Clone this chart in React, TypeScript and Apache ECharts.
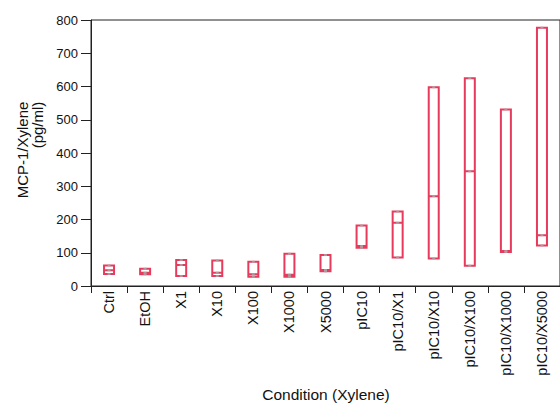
import React, { useEffect, useRef } from "react";
import * as echarts from "echarts";

const categories = ["Ctrl", "EtOH", "X1", "X10", "X100", "X1000", "X5000", "pIC10", "pIC10/X1", "pIC10/X10", "pIC10/X100", "pIC10/X1000", "pIC10/X5000"];
const minValues = [36, 35, 30, 30, 28, 28, 44, 115, 86, 83, 61, 102, 122];
const medianValues = [47, 40, 63, 40, 35, 34, 48, 120, 190, 270, 345, 105, 153];
const maxValues = [62, 52, 78, 77, 73, 97, 93, 182, 224, 598, 625, 531, 777];
const yTicks = { min: 0, max: 800, interval: 100 };

const RED = "#e63b5c";
const FONT = "Liberation Sans, Arial, Helvetica, sans-serif";

export default function App() {
  const ref = useRef<HTMLDivElement>(null);
  useEffect(() => {
    if (!ref.current) return;
    const chart = echarts.init(ref.current, null, { renderer: "svg" });
    const boxData = categories.map((_, i) => [minValues[i], minValues[i], medianValues[i], maxValues[i], maxValues[i]]);
    const pointData: number[][] = [];
    categories.forEach((_, i) => {
      pointData.push([i, minValues[i]]);
      pointData.push([i, medianValues[i]]);
      pointData.push([i, maxValues[i]]);
    });
    chart.setOption({
      animation: false,
      backgroundColor: "#fff",
      grid: { left: 91, right: -5, top: 20, bottom: 117, show: true, borderColor: "#222", borderWidth: 1, backgroundColor: "transparent" },
      xAxis: {
        type: "category",
        data: categories,
        boundaryGap: true,
        axisLine: { lineStyle: { color: "#222", width: 1 } },
        axisTick: { show: true, length: 7, alignWithLabel: false, lineStyle: { color: "#222" } },
        axisLabel: { rotate: 90, margin: 5, color: "#111", fontSize: 14.5, fontFamily: FONT, interval: 0 },
        splitLine: { show: false },
      },
      yAxis: {
        type: "value",
        min: yTicks.min,
        max: yTicks.max,
        interval: yTicks.interval,
        axisLine: { show: true, lineStyle: { color: "#222", width: 1 } },
        axisTick: { show: true, length: 10, lineStyle: { color: "#222" } },
        axisLabel: { margin: 13, color: "#111", fontSize: 13, fontFamily: FONT },
        splitLine: { show: false },
      },
      series: [
        {
          type: "boxplot",
          data: boxData,
          boxWidth: [10, 10],
          itemStyle: { color: "#fff", borderColor: RED, borderWidth: 2 },
          emphasis: { disabled: true },
        },
        {
          type: "scatter",
          data: pointData,
          symbol: "rect",
          symbolSize: [3, 2],
          itemStyle: { color: "#aaa", opacity: 0.8 },
          z: 5,
        },
      ],
      graphic: [
        {
          type: "text",
          x: 22,
          y: 150,
          rotation: Math.PI / 2,
          style: { text: "MCP-1/Xylene", font: `15px ${FONT}`, fill: "#111", align: "center", verticalAlign: "middle" },
        },
        {
          type: "text",
          x: 37,
          y: 125,
          rotation: Math.PI / 2,
          style: { text: "(pg/ml)", font: `15px ${FONT}`, fill: "#111", align: "center", verticalAlign: "middle" },
        },
        {
          type: "text",
          x: 326,
          y: 394,
          style: { text: "Condition (Xylene)", font: `15.5px ${FONT}`, fill: "#111", align: "center", verticalAlign: "middle" },
        },
      ],
    });
    return () => chart.dispose();
  }, []);
  return <div ref={ref} style={{ width: 560, height: 403, position: "absolute", left: 0, top: 0 }} />;
}
